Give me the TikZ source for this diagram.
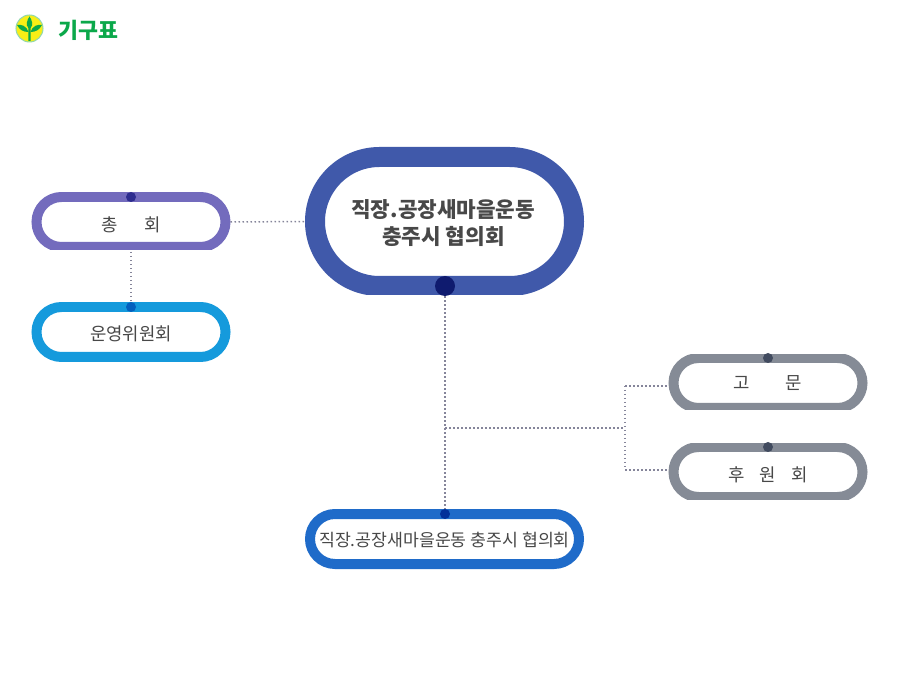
\documentclass[tikz,border=0pt]{standalone}
\usepackage{fontspec}
\setmainfont{Noto Sans CJK KR}
\usetikzlibrary{shapes.misc}
\definecolor{cPurple}{HTML}{736BBD}
\definecolor{cPurpleDot}{HTML}{2E2D8F}
\definecolor{cSky}{HTML}{159ADC}
\definecolor{cSkyDot}{HTML}{0460BE}
\definecolor{cNavy}{HTML}{4059AA}
\definecolor{cNavyDot}{HTML}{0F1B6F}
\definecolor{cBlue}{HTML}{1F6BC9}
\definecolor{cBlueDot}{HTML}{03309A}
\definecolor{cGrey}{HTML}{858B96}
\definecolor{cGreyDot}{HTML}{414B5F}
\definecolor{cLine}{HTML}{85859A}
\definecolor{cText}{HTML}{484848}
\definecolor{cGreen}{HTML}{0BA84A}
\definecolor{cYellow}{HTML}{F8EE16}
\newcommand{\lowr}[2]{\raisebox{-#1pt}[\height][\depth]{#2}}
\tikzset{
  x=1pt,y=-1pt,
  pill/.style={rounded rectangle,draw=#1,line width=10pt,fill=white,minimum width=189pt,minimum height=50pt,inner sep=0pt,text=cText,font=\fontsize{17.8}{20}\selectfont,align=center},
  dotlink/.style={draw=cLine,line width=1.5pt,dash pattern=on 1.5pt off 2.5pt},
  knob/.style={circle,fill=#1,inner sep=0pt,minimum size=10pt,draw=none},
}
\begin{document}
\begin{tikzpicture}
\useasboundingbox (0,0) rectangle (900,700);
\coordinate (jA) at (445,428);
\coordinate (jB) at (625,428);
\coordinate (jC) at (625,386);
\coordinate (jD) at (625,470);
% pills
\begin{scope}\clip (0,192.5) rectangle (300,250);
\node[pill=cPurple] (chong) at (131,222) {\lowr{3}{총\hspace{1.5em}회}};
\end{scope}
\begin{scope}\clip (0,303) rectangle (300,370);
\node[pill=cSky] (unyeong) at (131,332) {\lowr{2}{운영위원회}};
\end{scope}
\begin{scope}\clip (300,147) rectangle (600,295);
\node[pill=cNavy,line width=20pt,minimum width=259pt,minimum height=129pt,font=\fontsize{21.3}{26.5}\selectfont\bfseries] (main) at (444.5,221.5) {\lowr{1.5}{\kern-2.5pt 직장.공장새마을운동}\\\lowr{1.5}{\kern-2pt 충주시 협의회}};
\end{scope}
\begin{scope}\clip (300,500) rectangle (600,570);
\node[pill=cBlue,minimum width=269pt,font=\fontsize{17.25}{20}\selectfont] (sec) at (444.5,539) {\lowr{1}{직장.공장새마을운동 충주시 협의회}};
\end{scope}
\begin{scope}\clip (660,354.5) rectangle (880,410);
\node[pill=cGrey] (gomun) at (768,383) {고\hspace{2em}문};
\end{scope}
\begin{scope}\clip (660,443.5) rectangle (880,499);
\node[pill=cGrey] (huwon) at (768,472) {\lowr{3}{후\hspace{.85em}원\hspace{.85em}회}};
\end{scope}
% knobs
\node[knob=cPurpleDot] (k1) at (131,197) {};
\node[knob=cSkyDot] (k2) at (131,307) {};
\node[knob=cNavyDot,minimum size=20pt] (k3) at (445,286) {};
\node[knob=cBlueDot] (k4) at (445,514) {};
\node[knob=cGreyDot] (k5) at (768,358) {};
\node[knob=cGreyDot] (k6) at (768,447) {};
% links
\draw[dotlink] (chong.east) -- (main.west);
\draw[dotlink] (chong.south) -- (k2);
\draw[dotlink] (k3) -- (k4);
\draw[dotlink] (jA) -- (jB);
\draw[dotlink] (jC) -- (jD);
\draw[dotlink] (jC) -- (gomun.west |- jC);
\draw[dotlink] (jD) -- (huwon.west |- jD);
% logo
\node[circle,fill=cYellow,draw=cGreen!45,line width=1pt,minimum size=27pt,inner sep=0pt] (logo) at (29.5,28.5) {};
\fill[cGreen] (28.3,41) -- (28.3,28) .. controls (25.5,25) and (27,20) .. (29.5,16.5) .. controls (32,20) and (33.5,25) .. (30.7,28) -- (30.7,41) -- cycle;
\fill[cGreen] (28.5,32) .. controls (23.5,32) and (19.5,30) .. (17,25) .. controls (21.5,24) and (26.5,26) .. (28.5,32) -- cycle;
\fill[cGreen] (30.5,32) .. controls (35.5,32) and (39.5,30) .. (42,25) .. controls (37.5,24) and (32.5,26) .. (30.5,32) -- cycle;
\node[text=cGreen,font=\fontsize{21.7}{24}\selectfont\bfseries,inner sep=0pt] (title) at (88.5,30) {기구표};
\end{tikzpicture}
\end{document}
